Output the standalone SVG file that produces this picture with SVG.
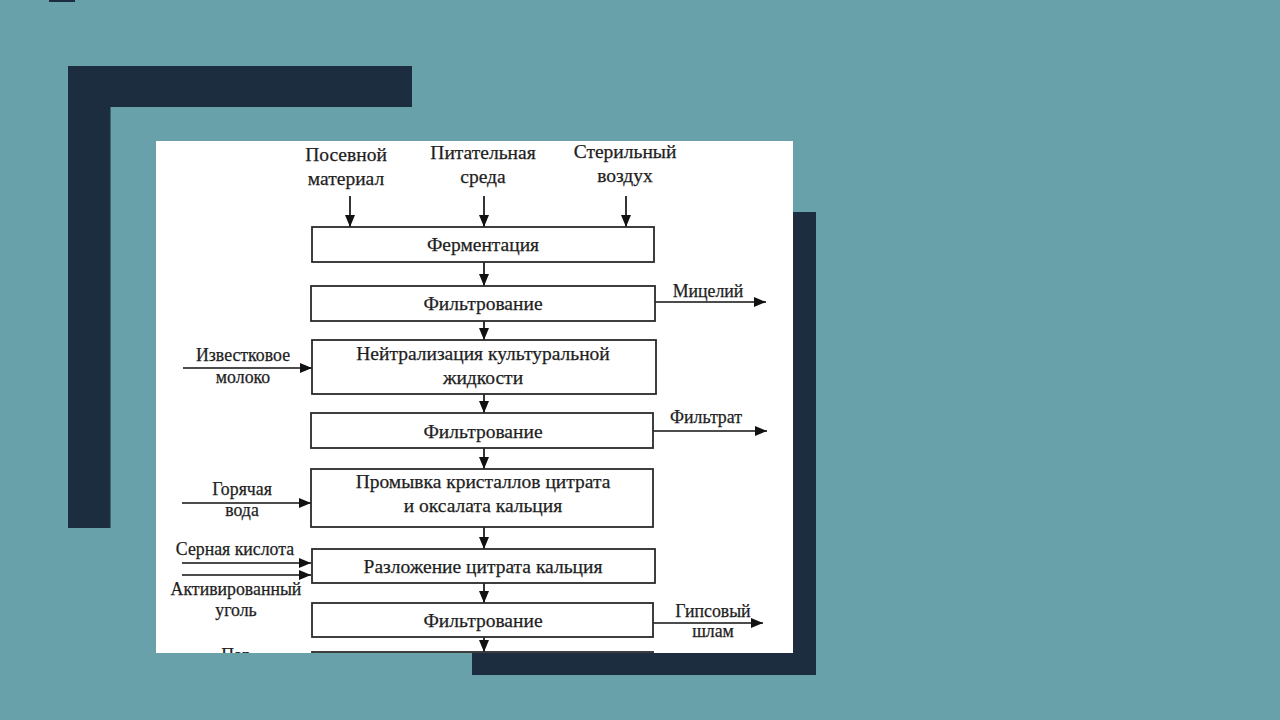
<svg xmlns="http://www.w3.org/2000/svg" width="1280" height="720" viewBox="0 0 1280 720">
<defs>
<style>
.bg{fill:#68a1aa}
.dark{fill:#1c2d3f}
.box{fill:#fff;stroke:#2a2a2a;stroke-width:1.8}
.t{font-family:"Liberation Serif","Times New Roman",serif;fill:#1e1e1e;text-anchor:middle;stroke:#1e1e1e;stroke-width:0.25}
.bt{font-size:19.5px}
.tl{font-size:19.5px}
.sl{font-size:17.8px}
.ln{stroke:#111;stroke-width:1.7;fill:none}
</style>
<marker id="ah" viewBox="0 0 12 10" refX="12" refY="5" markerWidth="12" markerHeight="10" markerUnits="userSpaceOnUse" orient="auto">
<path d="M0,0 L12,5 L0,10 Z" fill="#111"/>
</marker>
<clipPath id="pic"><rect x="156" y="141" width="637" height="512"/></clipPath>
</defs>
<rect class="bg" x="0" y="0" width="1280" height="720"/>
<rect class="dark" x="49" y="0" width="26" height="2"/>
<path class="dark" d="M68,66 H412 V107 H110.5 V528 H68 Z"/>
<rect class="dark" x="472" y="212" width="344" height="463"/>
<rect x="156" y="141" width="637" height="512" fill="#fff"/>
<g clip-path="url(#pic)">
<g id="connectors">
<line class="ln" x1="350" y1="196" x2="350" y2="227" marker-end="url(#ah)"/>
<line class="ln" x1="484" y1="196" x2="484" y2="227" marker-end="url(#ah)"/>
<line class="ln" x1="626" y1="196" x2="626" y2="227" marker-end="url(#ah)"/>
<line class="ln" x1="484" y1="262" x2="484" y2="286" marker-end="url(#ah)"/>
<line class="ln" x1="484" y1="321" x2="484" y2="340" marker-end="url(#ah)"/>
<line class="ln" x1="484" y1="394" x2="484" y2="413" marker-end="url(#ah)"/>
<line class="ln" x1="484" y1="448" x2="484" y2="469" marker-end="url(#ah)"/>
<line class="ln" x1="484" y1="527" x2="484" y2="549" marker-end="url(#ah)"/>
<line class="ln" x1="484" y1="583" x2="484" y2="603" marker-end="url(#ah)"/>
<line class="ln" x1="484" y1="637" x2="484" y2="652" marker-end="url(#ah)"/>
<line class="ln" x1="655" y1="302" x2="766" y2="302" marker-end="url(#ah)"/>
<line class="ln" x1="653" y1="431" x2="767" y2="431" marker-end="url(#ah)"/>
<line class="ln" x1="653" y1="623" x2="763" y2="623" marker-end="url(#ah)"/>
<line class="ln" x1="183" y1="368" x2="312" y2="368" marker-end="url(#ah)"/>
<line class="ln" x1="182" y1="503" x2="311" y2="503" marker-end="url(#ah)"/>
<line class="ln" x1="182" y1="563" x2="311" y2="563" marker-end="url(#ah)"/>
<line class="ln" x1="182" y1="575" x2="311" y2="575" marker-end="url(#ah)"/>
</g>
<g id="n-inputs-top">
<text class="t tl" x="346" y="161">Посевной</text>
<text class="t tl" x="346" y="185">материал</text>
<text class="t tl" x="483" y="159">Питательная</text>
<text class="t tl" x="483" y="183">среда</text>
<text class="t tl" x="625" y="158">Стерильный</text>
<text class="t tl" x="625" y="182">воздух</text>
</g>
<g id="n1"><rect class="box" x="312" y="227" width="342" height="35"/><text class="t bt" x="483" y="251">Ферментация</text></g>
<g id="n2"><rect class="box" x="311" y="286" width="344" height="35"/><text class="t bt" x="483" y="310">Фильтрование</text></g>
<g id="n3"><rect class="box" x="312" y="340" width="344" height="54"/><text class="t bt" x="483" y="360">Нейтрализация культуральной</text><text class="t bt" x="483" y="384">жидкости</text></g>
<g id="n4"><rect class="box" x="311" y="413" width="342" height="35"/><text class="t bt" x="483" y="438">Фильтрование</text></g>
<g id="n5"><rect class="box" x="311" y="469" width="342" height="58"/><text class="t bt" x="483" y="488">Промывка кристаллов цитрата</text><text class="t bt" x="483" y="512">и оксалата кальция</text></g>
<g id="n6"><rect class="box" x="312" y="549" width="343" height="34"/><text class="t bt" x="483" y="573">Разложение цитрата кальция</text></g>
<g id="n7"><rect class="box" x="312" y="603" width="341" height="34"/><text class="t bt" x="483" y="627">Фильтрование</text></g>
<g id="n8"><rect class="box" x="312" y="652" width="341" height="40"/></g>
<g id="n-outputs">
<text class="t sl" x="708" y="297">Мицелий</text>
<text class="t sl" x="706" y="423">Фильтрат</text>
<text class="t sl" x="713" y="617">Гипсовый</text>
<text class="t sl" x="713" y="637">шлам</text>
</g>
<g id="n-inputs-left">
<text class="t sl" x="243" y="361">Известковое</text>
<text class="t sl" x="243" y="383">молоко</text>
<text class="t sl" x="242" y="495">Горячая</text>
<text class="t sl" x="242" y="516">вода</text>
<text class="t sl" x="235" y="555">Серная кислота</text>
<text class="t sl" x="236" y="595">Активированный</text>
<text class="t sl" x="236" y="616">уголь</text>
<text class="t sl" x="236" y="661">Пар</text>
</g>
</g>
</svg>
